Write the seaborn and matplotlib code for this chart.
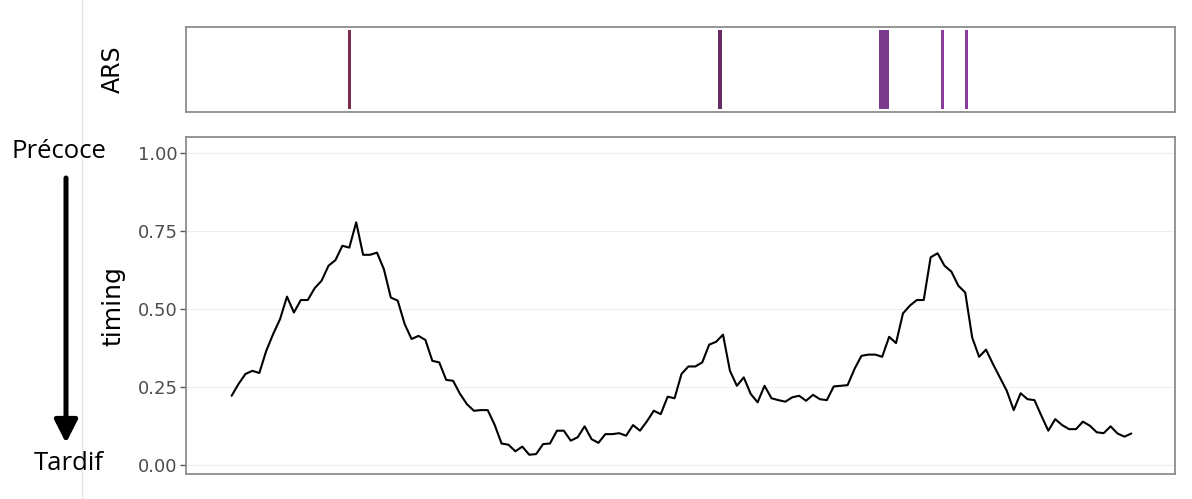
import matplotlib.pyplot as plt
import seaborn as sns
import numpy as np
import pandas as pd
from matplotlib.lines import Line2D

# replication timing profile (0 = late, 1 = early)
timing = [
    0.221, 0.259, 0.291, 0.301, 0.294, 0.365, 0.419, 0.467, 0.539, 0.488,
    0.528, 0.528, 0.566, 0.590, 0.638, 0.656, 0.702, 0.696, 0.777, 0.673,
    0.673, 0.680, 0.627, 0.536, 0.526, 0.451,
    0.403, 0.413, 0.400, 0.333, 0.328, 0.272, 0.269, 0.227, 0.194, 0.173,
    0.175, 0.175, 0.128, 0.068, 0.064, 0.043, 0.058, 0.032, 0.034, 0.066,
    0.068, 0.109, 0.109, 0.077, 0.088, 0.123,
    0.082, 0.070, 0.098, 0.098, 0.101, 0.093, 0.127, 0.109, 0.139, 0.173,
    0.162, 0.218, 0.213, 0.291, 0.315, 0.315, 0.328, 0.385, 0.394, 0.417,
    0.301, 0.253, 0.280, 0.227, 0.200, 0.253,
    0.213, 0.207, 0.202, 0.216, 0.221, 0.205, 0.224, 0.210, 0.207, 0.251,
    0.253, 0.255, 0.307, 0.349, 0.353, 0.353, 0.346, 0.410, 0.390, 0.485,
    0.510, 0.528, 0.528, 0.665, 0.678, 0.638,
    0.619, 0.574, 0.552, 0.408, 0.346, 0.369, 0.323, 0.280, 0.237, 0.175,
    0.229, 0.210, 0.207, 0.157, 0.109, 0.146, 0.127, 0.114, 0.114, 0.138,
    0.125, 0.104, 0.101, 0.123, 0.100, 0.090, 0.100,
]
position = np.arange(len(timing))

# ARS locations (same x units as the profile)
ars_start = [16.85, 70.3, 93.5, 102.55, 105.95]
ars_end = [17.3, 70.8, 95.0, 103.0, 106.4]

ytick_values = [0.0, 0.25, 0.5, 0.75, 1.0]
ytick_labels = ["0.00", "0.25", "0.50", "0.75", "1.00"]

sns.set_theme(style="white")
fig = plt.figure(figsize=(11.92, 4.99), dpi=100)
ax_ars = fig.add_axes([0.156, 0.7756, 0.8297, 0.170])
ax = fig.add_axes([0.156, 0.050, 0.8297, 0.675])

xlim = (-6.6, 136.3)

# top panel: ARS marks
ars_colors = ["#7b2d4f", "#632a63", "#7a3b8c", "#8a3c9a", "#8a3c9a"]
for s, e, c in zip(ars_start, ars_end, ars_colors):
    ax_ars.axvspan(s, e, ymin=0.03, ymax=0.97, color=c, lw=0)
ax_ars.set_xlim(*xlim)
ax_ars.set_xticks([])
ax_ars.set_yticks([])
ax_ars.set_ylabel("ARS", fontsize=17, labelpad=44, color="black")

# main panel: timing profile
df = pd.DataFrame({"position": position, "timing": timing})
sns.lineplot(data=df, x="position", y="timing", ax=ax, color="black", linewidth=1.5)
ax.set_xlim(*xlim)
ax.set_ylim(-0.03, 1.05)
ax.set_xticks([])
ax.set_xlabel("")
ax.set_yticks(ytick_values)
ax.set_yticklabels(ytick_labels)
ax.tick_params(axis="y", left=True, length=4, width=1, color="#555555",
               labelsize=13, labelcolor="#4d4d4d", pad=2)
ax.set_ylabel("timing", fontsize=18, labelpad=9, color="black")
ax.yaxis.grid(True, color="#eeeeee", lw=0.8)

for a in (ax, ax_ars):
    for sp in a.spines.values():
        sp.set_color("#8c8c8c")
        sp.set_linewidth(1.3)

# annotation on the left
fig.text(11 / 1192, 1 - 151 / 499, "Précoce", fontsize=18.5, family="Open Sans",
         ha="left", va="center", color="black")
fig.text(34 / 1192, 1 - 463 / 499, "Tardif", fontsize=18.5, family="Open Sans",
         ha="left", va="center", color="black")
ax.annotate("", xy=(66 / 1192, 1 - 443 / 499), xytext=(66 / 1192, 1 - 178 / 499),
            xycoords="figure fraction", textcoords="figure fraction",
            arrowprops=dict(arrowstyle="-|>,head_length=0.55,head_width=0.28",
                            lw=3.6, color="black", mutation_scale=25,
                            shrinkA=0, shrinkB=0))
fig.add_artist(Line2D([82 / 1192, 82 / 1192], [0, 1], transform=fig.transFigure,
                      color="#e6e6e6", lw=1))

fig.savefig("out.png", dpi=100)
